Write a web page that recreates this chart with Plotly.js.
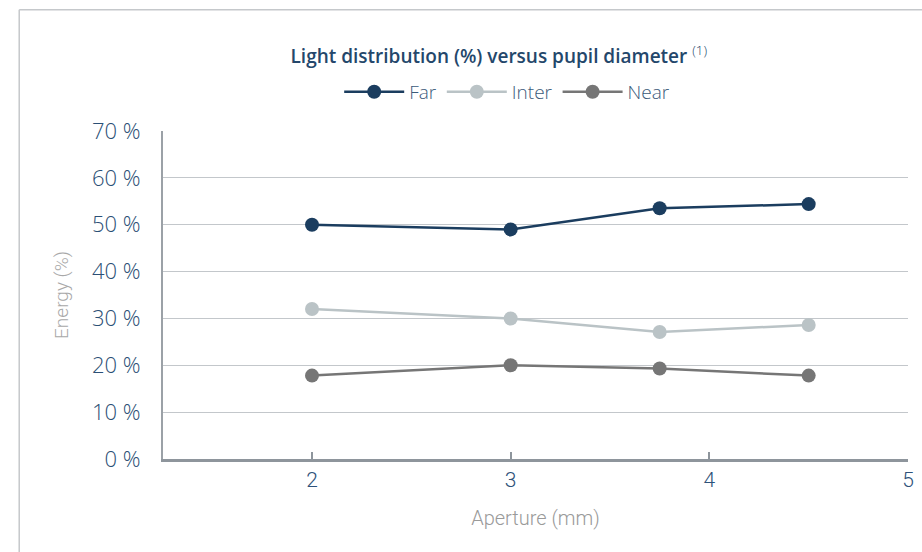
<!DOCTYPE html>
<html>
<head>
<meta charset="utf-8">
<script src="https://cdn.plot.ly/plotly-3.0.1.min.js"></script>
<style>html,body{margin:0;padding:0;background:#fff;}#chart{width:922px;height:552px;}</style>
</head>
<body>
<div id="chart"></div>
<script>
const aperture = [2, 3, 3.75, 4.5];
const far = [50, 49, 53.5, 54.4];
const inter = [32, 30, 27.1, 28.6];
const near = [17.8, 20, 19.3, 17.8];
const seriesNames = ["Far", "Inter", "Near"];
const seriesColors = ["#1b3d5f", "#bac3c6", "#767676"];
const yTicks = [0, 10, 20, 30, 40, 50, 60, 70];
const xTicks = [2, 3, 4, 5];

const values = [far, inter, near];
const traces = values.map((v, i) => ({
  x: aperture, y: v, name: seriesNames[i], type: 'scatter', mode: 'lines+markers',
  line: {color: seriesColors[i], width: 2.5},
  marker: {color: seriesColors[i], size: 14}
}));

const layout = {
  width: 922, height: 552,
  margin: {l: 163, r: 14, t: 131, b: 93},
  paper_bgcolor: '#fff', plot_bgcolor: '#fff',
  font: {family: '"Open Sans", sans-serif'},
  title: {
    text: 'Light distribution (%) versus pupil diameter <sup style="font-weight:300">(1)</sup>',
    font: {family: '"Open Sans", sans-serif', size: 19, color: '#24476b', weight: 600},
    x: 0.541, xanchor: 'center', xref: 'container', y: 0.898, yanchor: 'middle', yref: 'container'
  },
  showlegend: true,
  legend: {
    orientation: 'h', x: 0.462, xanchor: 'center', y: 1.119, yanchor: 'middle',
    font: {family: '"Open Sans", sans-serif', size: 19, color: '#3b5a7a', weight: 300},
    itemwidth: 60, traceorder: 'normal'
  },
  xaxis: {
    range: [1.25, 5], tickvals: xTicks, ticktext: xTicks.map(String),
    showgrid: false, zeroline: false,
    showline: true, linecolor: '#8e959c', linewidth: 3,
    ticks: 'inside', ticklen: 7, tickwidth: 2, tickcolor: '#8e959c',
    tickfont: {family: 'Roboto, sans-serif', size: 21, color: '#2e527a', weight: 300},
    title: {text: 'Aperture (mm)', font: {family: 'Roboto, sans-serif', size: 20, color: '#9a9a9a', weight: 300}, standoff: 20}
  },
  yaxis: {
    range: [0, 70], tickvals: yTicks, ticktext: yTicks.map(v => v + ' %'),
    showgrid: true, gridcolor: '#c3c7cb', gridwidth: 1, zeroline: false,
    showline: true, linecolor: '#9ba1a7', linewidth: 2,
    ticks: '', ticklabelstandoff: 16,
    tickfont: {family: '"Open Sans", sans-serif', size: 22, color: '#2b4f75', weight: 300},
    title: {text: 'Energy (%)', font: {family: 'Roboto, sans-serif', size: 19, color: '#a8a8a8', weight: 300}, standoff: 18}
  },
  shapes: [
    {type: 'line', xref: 'paper', yref: 'paper', x0: -0.193, x1: -0.193, y0: 1.37, y1: -0.3, line: {color: '#c5c8cb', width: 1.5}},
    {type: 'line', xref: 'paper', yref: 'paper', x0: -0.193, x1: 1.03, y0: 1.37, y1: 1.37, line: {color: '#c5c8cb', width: 1.5}}
  ]
};
Plotly.newPlot('chart', traces, layout, {displayModeBar: false, staticPlot: true});
</script>
</body>
</html>
